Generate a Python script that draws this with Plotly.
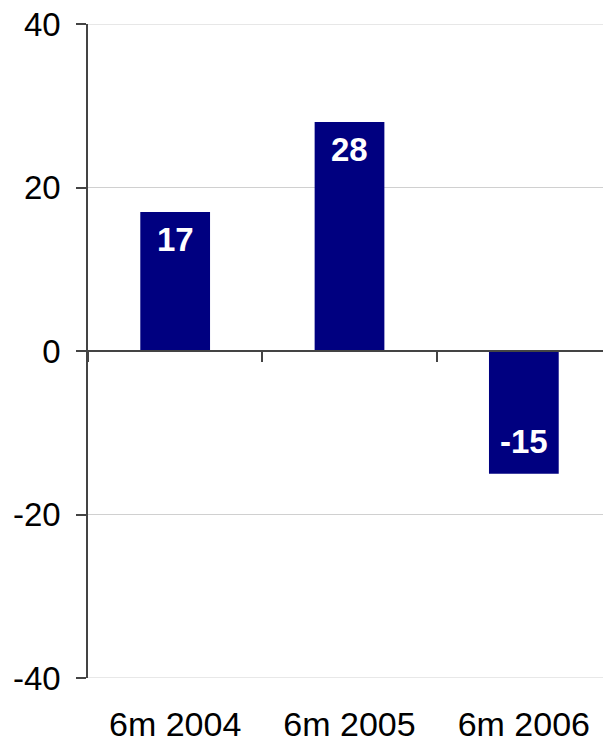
import plotly.graph_objects as go

periods = ["6m 2004", "6m 2005", "6m 2006"]
changes = [17, 28, -15]
y_ticks = [-40, -20, 0, 20, 40]
y_tick_text = ["-40", "-20", "0", "20", "40"]

fig = go.Figure(
    go.Bar(
        x=periods,
        y=changes,
        width=0.4,
        marker=dict(color="#000080", line=dict(width=0)),
        textposition="none",
        hoverinfo="x+y",
    )
)

# hidden helper trace so the axis through zero has its categories
fig.add_trace(go.Scatter(x=periods, y=[0, 0, 0], xaxis="x2", mode="markers",
                         marker=dict(opacity=0), hoverinfo="skip", showlegend=False))

# plotly drops gridlines on the range edges, so add them back
for v in (y_ticks[0], y_ticks[-1]):
    fig.add_hline(y=v, line=dict(color="#d0d0d0", width=1), layer="below")

# value labels inside the bar ends
for p, v in zip(periods, changes):
    fig.add_annotation(
        x=p, y=v, text=str(v), showarrow=False,
        yanchor="top" if v >= 0 else "bottom",
        yshift=-7 if v >= 0 else 12,
        font=dict(family="Arial, Liberation Sans, sans-serif", size=33, color="white", weight="bold"),
    )

fig.update_layout(
    width=603,
    height=743,
    paper_bgcolor="white",
    plot_bgcolor="white",
    showlegend=False,
    font=dict(family="Arial, Liberation Sans, sans-serif", size=30, color="black"),
    margin=dict(l=88, r=0, t=24, b=65),
    xaxis=dict(
        type="category",
        range=[-0.5, 2.454],
        showline=False,
        showgrid=False,
        zeroline=False,
        ticks="",
        tickfont=dict(size=34),
        ticklabelstandoff=23,
    ),
    xaxis2=dict(
        type="category",
        overlaying="x",
        matches="x",
        anchor="free",
        position=0.5,
        showline=True,
        linecolor="#444444",
        linewidth=1.5,
        showgrid=False,
        ticks="outside",
        tickson="boundaries",
        ticklen=10,
        tickcolor="#444444",
        tickwidth=1.5,
        showticklabels=False,
    ),
    yaxis=dict(
        range=[-40, 40],
        tickvals=y_ticks,
        ticktext=y_tick_text,
        tickfont=dict(size=33),
        showline=True,
        linecolor="#444444",
        linewidth=1.5,
        ticks="outside",
        ticklen=10,
        tickcolor="#444444",
        tickwidth=1.5,
        showgrid=True,
        gridcolor="#d0d0d0",
        gridwidth=1,
        zeroline=False,
        ticklabelstandoff=9,
    ),
)

fig.write_html("out.html", config={"displayModeBar": False},
               post_script="document.body.style.margin='0';")
